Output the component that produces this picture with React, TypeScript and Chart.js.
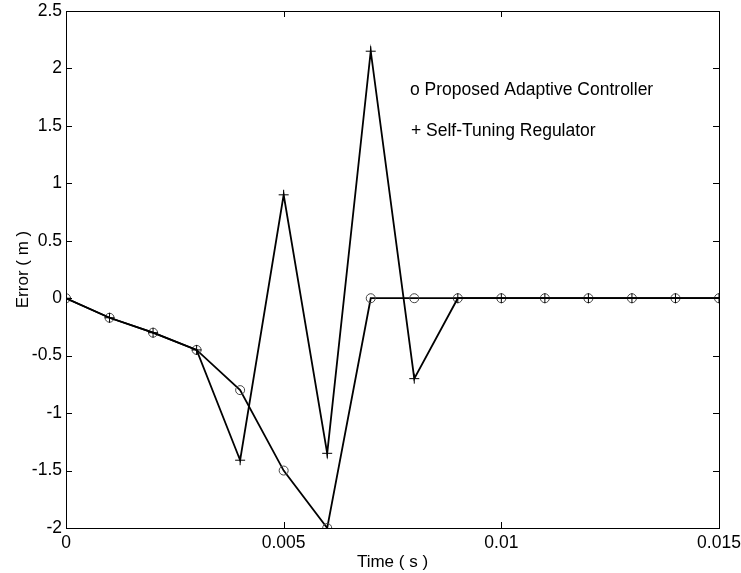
import React, { useEffect, useRef } from "react";
import { Chart, registerables } from "chart.js";

Chart.register(...registerables);

// Sample instants (s)
const timeSteps = [0, 0.001, 0.002, 0.003, 0.004, 0.005, 0.006, 0.007, 0.008, 0.009, 0.01, 0.011, 0.012, 0.013, 0.014, 0.015];
// Tracking error (m) of each controller
const adaptiveError = [0, -0.17, -0.3, -0.45, -0.8, -1.5, -2.0, 0, 0, 0, 0, 0, 0, 0, 0, 0];
const strError = [0, -0.17, -0.3, -0.45, -1.41, 0.9, -1.35, 2.15, -0.7, 0, 0, 0, 0, 0, 0, 0];
const legendLines = ["o Proposed Adaptive Controller", "+ Self-Tuning Regulator"];
const xTitle = "Time ( s )";
const yTitle = "Error ( m )";

const FONT = "Arial, 'Liberation Sans', sans-serif";
const FONT_SIZE = 17.5;

// Box around the plot area with inward tick marks on all four sides
const boxPlugin = {
  id: "matlabBox",
  afterDraw(chart: any) {
    const { ctx, chartArea: a, scales } = chart;
    ctx.save();
    ctx.strokeStyle = "#000";
    ctx.lineWidth = 1;
    ctx.strokeRect(a.left + 0.5, a.top + 0.5, a.right - a.left, a.bottom - a.top);
    const tl = 6;
    ctx.beginPath();
    scales.x.ticks.forEach((t: any) => {
      const px = Math.round(scales.x.getPixelForValue(t.value)) + 0.5;
      ctx.moveTo(px, a.bottom);
      ctx.lineTo(px, a.bottom - tl);
      ctx.moveTo(px, a.top);
      ctx.lineTo(px, a.top + tl);
    });
    scales.y.ticks.forEach((t: any) => {
      const py = Math.round(scales.y.getPixelForValue(t.value)) + 0.5;
      ctx.moveTo(a.left, py);
      ctx.lineTo(a.left + tl, py);
      ctx.moveTo(a.right, py);
      ctx.lineTo(a.right - tl, py);
    });
    ctx.stroke();

    // Text legend
    ctx.fillStyle = "#000";
    ctx.font = `${FONT_SIZE}px ${FONT}`;
    ctx.textBaseline = "middle";
    ctx.textAlign = "left";
    ctx.fillText(legendLines[0], 410, 90);
    ctx.fillText(legendLines[1], 411, 131);

    // Axis titles
    ctx.font = `17px ${FONT}`;
    ctx.textAlign = "center";
    ctx.fillText(xTitle, (a.left + a.right) / 2, 562);
    ctx.translate(23, (a.top + a.bottom) / 2);
    ctx.rotate(-Math.PI / 2);
    ctx.fillText(yTitle, 0, 0);
    ctx.restore();
  },
};

export default function App() {
  const ref = useRef<HTMLCanvasElement>(null);

  useEffect(() => {
    const canvas = ref.current;
    if (!canvas) return;
    const toPoints = (ys: number[]) => timeSteps.map((x, i) => ({ x, y: ys[i] }));
    const chart = new Chart(canvas, {
      type: "line",
      data: {
        datasets: [
          {
            label: "Self-Tuning Regulator",
            data: toPoints(strError),
            borderColor: "#000",
            borderWidth: 1.8,
            pointStyle: "cross",
            pointRadius: 5,
            pointBorderColor: "#000",
            pointBorderWidth: 1,
            pointBackgroundColor: "transparent",
            tension: 0,
          },
          {
            label: "Proposed Adaptive Controller",
            data: toPoints(adaptiveError),
            borderColor: "#000",
            borderWidth: 1.8,
            pointStyle: "circle",
            pointRadius: 4.5,
            pointBorderColor: "#444",
            pointBorderWidth: 1,
            pointBackgroundColor: "transparent",
            tension: 0,
          },
        ],
      },
      options: {
        animation: false,
        responsive: false,
        layout: { padding: { left: 0, top: 11, right: 22, bottom: 0 } },
        plugins: { legend: { display: false }, tooltip: { enabled: false } },
        scales: {
          x: {
            type: "linear",
            min: 0,
            max: 0.015,
            grid: { display: false, drawTicks: false },
            border: { display: false },
            ticks: {
              stepSize: 0.005,
              padding: 5,
              color: "#000",
              font: { family: FONT, size: FONT_SIZE },
              callback: (v: any) => String(Number(Number(v).toFixed(3))),
            },
            afterFit: (s: any) => {
              s.height = 45;
              s.paddingLeft = 0;
              s.paddingRight = 0;
            },
          },
          y: {
            type: "linear",
            min: -2,
            max: 2.5,
            grid: { display: false, drawTicks: false },
            border: { display: false },
            ticks: {
              stepSize: 0.5,
              padding: 4,
              color: "#000",
              font: { family: FONT, size: FONT_SIZE },
              callback: (v: any) => String(Number(Number(v).toFixed(2))),
            },
            afterFit: (s: any) => {
              s.width = 66;
              s.paddingTop = 0;
              s.paddingBottom = 0;
            },
          },
        },
      },
      plugins: [boxPlugin],
    });
    return () => chart.destroy();
  }, []);

  return (
    <div style={{ position: "absolute", left: 0, top: 0, width: 741, height: 573, background: "#fff" }}>
      <canvas ref={ref} width={741} height={573} style={{ display: "block" }} />
    </div>
  );
}
